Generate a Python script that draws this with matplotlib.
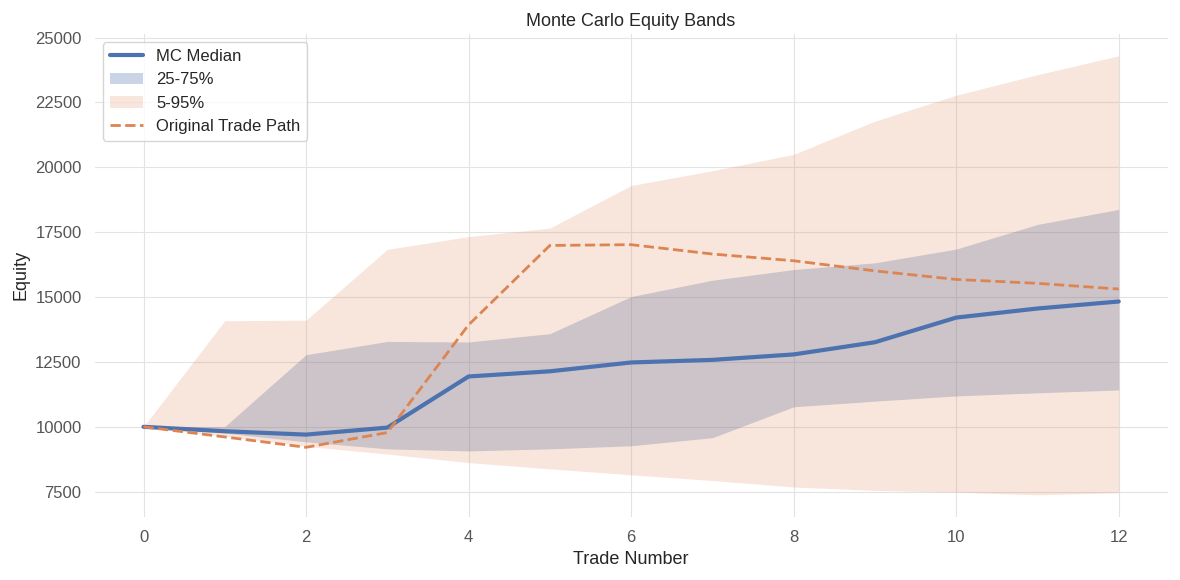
import numpy as np
import seaborn as sns
from matplotlib import pyplot as plt

trades = list(range(13))
median = [10000, 9830, 9700, 9970, 11940, 12140, 12480, 12580, 12790, 13260, 14210, 14560, 14830]
p25 = [10000, 9760, 9420, 9150, 9070, 9150, 9270, 9580, 10770, 10990, 11190, 11310, 11420]
p75 = [10000, 10010, 12780, 13290, 13270, 13590, 15020, 15650, 16060, 16320, 16850, 17800, 18380]
p5 = [10000, 9640, 9250, 8950, 8620, 8380, 8150, 7930, 7680, 7550, 7480, 7380, 7460]
p95 = [10000, 14090, 14110, 16840, 17330, 17660, 19300, 19870, 20500, 21780, 22780, 23570, 24300]
original = [10000, 9610, 9210, 9780, 13930, 16990, 17020, 16660, 16400, 16010, 15680, 15530, 15310]


def main():
    sns.set_theme(style='whitegrid')
    plt.rcParams['font.family'] = ['Liberation Sans', 'DejaVu Sans']

    blue, orange = sns.color_palette('deep')[:2]

    fig, ax = plt.subplots(figsize=(11.8, 5.8), dpi=100)
    ax.plot(trades, median, color=blue, lw=3, label='MC Median')
    ax.fill_between(trades, p25, p75, color=blue, alpha=0.3, lw=0, label='25-75%')
    ax.fill_between(trades, p5, p95, color=orange, alpha=0.2, lw=0, label='5-95%')
    ax.plot(trades, original, color=orange, lw=2, ls='--', label='Original Trade Path')

    for sp in ax.spines.values():
        sp.set_visible(False)
    ax.grid(color='#e3e3e3', lw=0.8)

    ax.set_title('Monte Carlo Equity Bands', fontsize=13)
    ax.set_xlabel('Trade Number', fontsize=13)
    ax.set_ylabel('Equity', fontsize=13)
    ax.tick_params(labelsize=12, colors='#555555')
    ax.legend(loc='upper left', fontsize=12, frameon=True)

    plt.tight_layout(pad=0.75)
    plt.savefig('out.png', dpi=100)


if __name__ == '__main__':
    main()
